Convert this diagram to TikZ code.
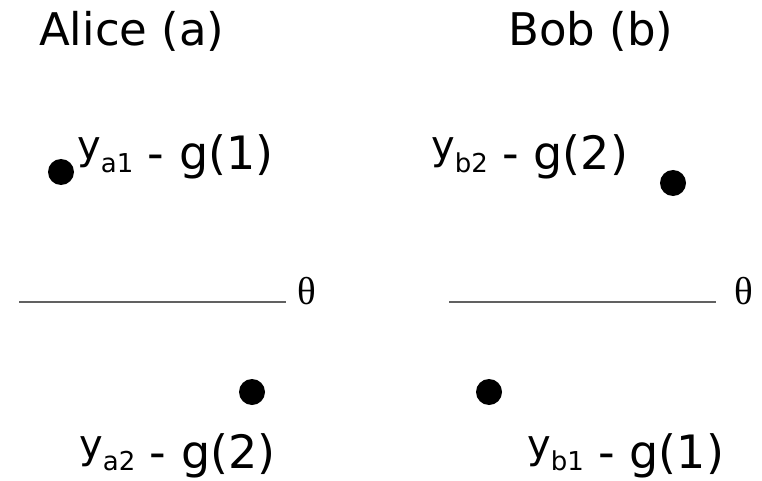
\documentclass[tikz,border=0pt]{standalone}
\usepackage{fontspec}
\setmainfont{DejaVu Sans}
\newfontfamily\thetafont{Liberation Serif}
\newcommand\myylab[2]{{\fontsize{40}{40}\selectfont\raisebox{10pt}{y}}{\fontsize{26}{26}\selectfont\raisebox{-2pt}{#1}}{\fontsize{46}{46}\selectfont\ - g(#2)}}
\tikzset{
  lbl/.style={inner sep=0pt, anchor=base west},
  title/.style={inner sep=0pt, anchor=base west, font=\fontsize{45}{45}\selectfont},
  dot/.style={fill=black, circle, inner sep=0pt, minimum size=26pt},
  axis/.style={draw=black!62, line width=2.4pt},
  th/.style={inner sep=0pt, anchor=base west, font=\thetafont\fontsize{39}{39}\selectfont}
}
\begin{document}
\begin{tikzpicture}[x=1pt,y=-1pt]
\useasboundingbox (0,0) rectangle (762,481);
\node[title] (alice) at (39,46) {Alice (a)};
\node[title] (bob) at (508,46) {Bob (b)};
% Alice
\node[dot] (da1) at (61,172) {};
\node[lbl] (la1) at (77,170) {\myylab{a1}{1}};
\coordinate (al1) at (19,302);
\coordinate (al2) at (286,302);
\draw[axis] (al1) -- (al2);
\node[th] (tha) at (297,304) {θ};
\node[dot] (da2) at (252,392) {};
\node[lbl] (la2) at (79,468) {\myylab{a2}{2}};
% Bob
\node[lbl] (lb2) at (431,170) {\myylab{b2}{2}};
\node[dot] (db2) at (673,183) {};
\coordinate (bl1) at (449,302);
\coordinate (bl2) at (716,302);
\draw[axis] (bl1) -- (bl2);
\node[th] (thb) at (734,304) {θ};
\node[dot] (db1) at (489,392) {};
\node[lbl] (lb1) at (527,468) {\myylab{b1}{1}};
\end{tikzpicture}
\end{document}
